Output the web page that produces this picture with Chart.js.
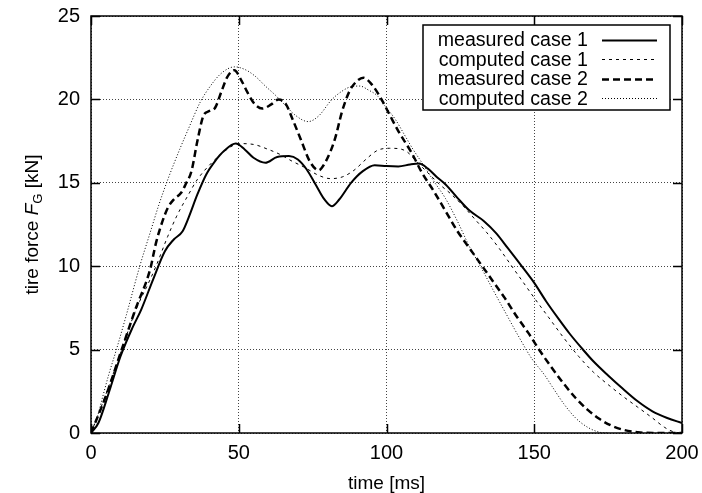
<!DOCTYPE html>
<html>
<head>
<meta charset="utf-8">
<script src="https://cdn.jsdelivr.net/npm/chart.js@4.4.1/dist/chart.umd.min.js"></script>
<style>
  html, body { margin: 0; padding: 0; background: #fff; }
  #chart { display: block; }
</style>
</head>
<body>
<canvas id="chart" width="702" height="493"></canvas>
<script>
// --- data: time [ms] and tire force [kN] ---
const seriesLabels = ['measured case 1', 'computed case 1', 'measured case 2', 'computed case 2'];

const timeMeas1 = [0, 2.5, 6, 10, 14, 17, 21, 25, 28, 31, 33, 36, 39, 42, 45, 49, 52, 55, 59, 63, 67, 70, 73, 76, 79, 81.5, 84, 88, 92, 96, 100, 104, 108, 111, 114, 117, 120, 124, 128, 133, 137, 141, 146, 150, 154, 158, 162, 166, 170, 175, 180, 185, 190, 195, 200];
const forceMeas1 = [0, 0.6, 2.4, 4.6, 6.3, 7.4, 9.2, 10.9, 11.6, 12.1, 12.9, 14.3, 15.5, 16.3, 16.9, 17.35, 17.0, 16.5, 16.2, 16.55, 16.6, 16.4, 15.8, 14.9, 14.0, 13.6, 14.0, 15.0, 15.7, 16.05, 16.0, 15.98, 16.1, 16.15, 15.85, 15.35, 14.9, 14.1, 13.35, 12.7, 12.0, 11.1, 9.95, 9.0, 7.9, 6.9, 5.95, 5.1, 4.3, 3.45, 2.65, 1.9, 1.3, 0.9, 0.6];

const timeComp1 = [0, 5, 10, 15, 20, 22, 26, 29, 33, 36, 42, 46, 50, 55, 60, 64, 68, 72, 77, 81, 85, 89, 93, 97, 101, 104, 107, 110, 114, 118, 122, 126, 130, 134, 138, 142, 146, 150, 155, 160, 165, 170, 175, 180, 185, 190, 194, 197, 200];
const forceComp1 = [0, 2.3, 4.8, 7.3, 9.2, 10.0, 11.8, 13.0, 14.3, 15.2, 16.4, 17.0, 17.35, 17.3, 17.0, 16.7, 16.3, 15.95, 15.45, 15.25, 15.35, 15.75, 16.4, 16.95, 17.07, 17.05, 16.85, 16.3, 15.6, 14.9, 14.3, 13.6, 12.8, 12.0, 11.1, 10.1, 9.1, 8.1, 6.9, 5.7, 4.6, 3.65, 2.9, 2.2, 1.55, 0.9, 0.35, 0.08, 0];

const timeMeas2 = [0, 5, 10, 15, 20, 22, 24, 26, 28, 30.5, 32, 34, 36, 38, 40, 42, 44, 46, 48.5, 51, 53, 55.5, 58, 61, 63.5, 66, 68, 71, 74, 77, 79.5, 82.5, 85, 87.5, 90, 92.2, 95, 98, 101, 104, 108.5, 112, 116, 120, 124, 128, 132, 136, 140, 144, 148, 152, 156, 160, 164, 168, 172, 176, 180, 185, 190, 200];
const forceMeas2 = [0, 2.2, 4.8, 7.4, 9.8, 11.4, 12.6, 13.5, 14.0, 14.4, 14.9, 15.7, 17.5, 19.0, 19.3, 19.5, 20.4, 21.3, 21.75, 21.1, 20.4, 19.7, 19.45, 19.7, 20.0, 19.7, 18.9, 17.6, 16.3, 15.75, 16.3, 17.6, 19.3, 20.5, 21.1, 21.3, 20.9, 20.1, 19.1, 18.1, 16.8, 15.6, 14.5, 13.3, 12.1, 11.1, 10.1, 9.1, 8.1, 7.0, 6.0, 4.9, 3.9, 2.95, 2.1, 1.4, 0.85, 0.45, 0.2, 0.05, 0, 0];

const timeComp2 = [0, 2, 4, 6, 8.6, 12, 16.5, 20, 23, 26, 30, 33, 37, 40, 44, 48.6, 52, 55.5, 59, 62.3, 66, 69, 73.5, 77, 81.4, 85, 88.2, 91, 93.8, 97, 99.5, 103, 106, 109, 112, 116, 120, 124, 128, 131.6, 136, 140, 145, 149, 153.6, 156, 160, 164, 168, 172, 175];
const forceComp2 = [0, 0.9, 2.2, 3.5, 5.0, 7.1, 10.0, 12.0, 13.7, 15.2, 17.0, 18.25, 19.85, 20.7, 21.55, 21.95, 21.8, 21.4, 20.8, 20.27, 19.6, 19.07, 18.67, 19.0, 19.97, 20.5, 20.77, 20.8, 20.57, 20.2, 19.6, 18.8, 17.9, 17.0, 16.2, 15.1, 14.05, 12.7, 11.2, 10.06, 8.6, 7.3, 5.7, 4.5, 3.45, 2.8, 1.75, 0.9, 0.35, 0.05, 0];

const xTicks = [0, 50, 100, 150, 200];
const yTicks = [0, 5, 10, 15, 20, 25];

const toPoints = (ts, vs) => ts.map((t, i) => ({ x: t, y: vs[i] }));

const FONT = '"Liberation Sans", Arial, Helvetica, sans-serif';

// frame + inward tick marks on all four sides (gnuplot style)
const frameTicks = {
  id: 'frameTicks',
  afterDatasetsDraw(chart) {
    const { ctx, chartArea: a, scales: { x, y } } = chart;
    const len = 9;
    ctx.save();
    ctx.strokeStyle = '#000';
    ctx.lineWidth = 1.5;
    ctx.beginPath();
    xTicks.forEach(v => {
      const px = Math.round(x.getPixelForValue(v)) + 0.5;
      ctx.moveTo(px, a.bottom); ctx.lineTo(px, a.bottom - len);
      ctx.moveTo(px, a.top); ctx.lineTo(px, a.top + len);
    });
    yTicks.forEach(v => {
      const py = Math.round(y.getPixelForValue(v)) + 0.5;
      ctx.moveTo(a.left, py); ctx.lineTo(a.left + len, py);
      ctx.moveTo(a.right, py); ctx.lineTo(a.right - len, py);
    });
    ctx.stroke();
    ctx.strokeRect(a.left, a.top, a.right - a.left, a.bottom - a.top);
    ctx.restore();
  }
};

// legend box: text right-aligned, line sample on the right
const sideLegend = {
  id: 'sideLegend',
  afterDraw(chart) {
    const ctx = chart.ctx;
    const box = { x: 423, y: 25, w: 247, h: 85 };
    ctx.save();
    ctx.fillStyle = '#fff';
    ctx.fillRect(box.x, box.y, box.w, box.h);
    ctx.strokeStyle = '#000';
    ctx.lineWidth = 1.5;
    ctx.strokeRect(box.x, box.y, box.w, box.h);
    ctx.font = '19.6px ' + FONT;
    ctx.textAlign = 'right';
    ctx.textBaseline = 'middle';
    chart.data.datasets.forEach((ds, i) => {
      const yy = 39.5 + i * 19.6;
      ctx.fillStyle = '#000';
      ctx.fillText(ds.label, 588, yy + 1);
      ctx.beginPath();
      ctx.strokeStyle = ds.borderColor;
      ctx.lineWidth = ds.borderWidth;
      ctx.setLineDash(ds.borderDash || []);
      ctx.moveTo(602, Math.round(yy) + 0.5);
      ctx.lineTo(657, Math.round(yy) + 0.5);
      ctx.stroke();
    });
    ctx.restore();
  }
};

// y-axis title with italic F and subscript G
const yTitle = {
  id: 'yTitle',
  afterDraw(chart) {
    const ctx = chart.ctx;
    const a = chart.chartArea;
    const parts = [
      { t: 'tire force ', f: '19px ' + FONT, dy: 0 },
      { t: 'F', f: 'italic 19px ' + FONT, dy: 0 },
      { t: 'G', f: '13px ' + FONT, dy: 4 },
      { t: ' [kN]', f: '19px ' + FONT, dy: 0 }
    ];
    ctx.save();
    let total = 0;
    parts.forEach(p => { ctx.font = p.f; p.w = ctx.measureText(p.t).width; total += p.w; });
    ctx.translate(38, (a.top + a.bottom) / 2);
    ctx.rotate(-Math.PI / 2);
    ctx.fillStyle = '#000';
    ctx.textBaseline = 'alphabetic';
    ctx.textAlign = 'left';
    let u = -total / 2;
    parts.forEach(p => { ctx.font = p.f; ctx.fillText(p.t, u, p.dy); u += p.w; });
    ctx.restore();
  }
};

new Chart(document.getElementById('chart').getContext('2d'), {
  type: 'line',
  data: {
    datasets: [
      { label: seriesLabels[0], data: toPoints(timeMeas1, forceMeas1), borderColor: '#000', borderWidth: 2, borderDash: [] },
      { label: seriesLabels[1], data: toPoints(timeComp1, forceComp1), borderColor: '#000', borderWidth: 1, borderDash: [3, 4] },
      { label: seriesLabels[2], data: toPoints(timeMeas2, forceMeas2), borderColor: '#000', borderWidth: 2.5, borderDash: [7, 4] },
      { label: seriesLabels[3], data: toPoints(timeComp2, forceComp2), borderColor: '#000', borderWidth: 1, borderDash: [1, 2] }
    ]
  },
  options: {
    responsive: false,
    animation: false,
    elements: { point: { radius: 0 }, line: { cubicInterpolationMode: 'monotone', fill: false } },
    layout: { padding: { top: 16, right: 20, bottom: 0, left: 0 } },
    plugins: { legend: { display: false }, tooltip: { enabled: false } },
    scales: {
      x: {
        type: 'linear', min: 0, max: 200,
        afterBuildTicks: s => { s.ticks = xTicks.map(v => ({ value: v })); },
        afterFit: s => { s.height = 60; s.paddingLeft = 0; s.paddingRight = 0; },
        ticks: { color: '#000', padding: 8, maxRotation: 0, font: { family: FONT, size: 20 } },
        grid: { color: '#444', lineWidth: 1, drawTicks: false },
        border: { display: false, dash: [1, 2] },
        title: { display: true, text: 'time [ms]', color: '#000', padding: { top: 0, bottom: -2 }, font: { family: FONT, size: 19 } }
      },
      y: {
        type: 'linear', min: 0, max: 25,
        afterBuildTicks: s => { s.ticks = yTicks.map(v => ({ value: v })); },
        afterFit: s => { s.width = 91; s.paddingTop = 0; s.paddingBottom = 0; },
        ticks: { color: '#000', padding: 11, font: { family: FONT, size: 20 } },
        grid: { color: '#444', lineWidth: 1, drawTicks: false },
        border: { display: false, dash: [1, 2] }
      }
    }
  },
  plugins: [frameTicks, yTitle, sideLegend]
});
</script>
</body>
</html>
